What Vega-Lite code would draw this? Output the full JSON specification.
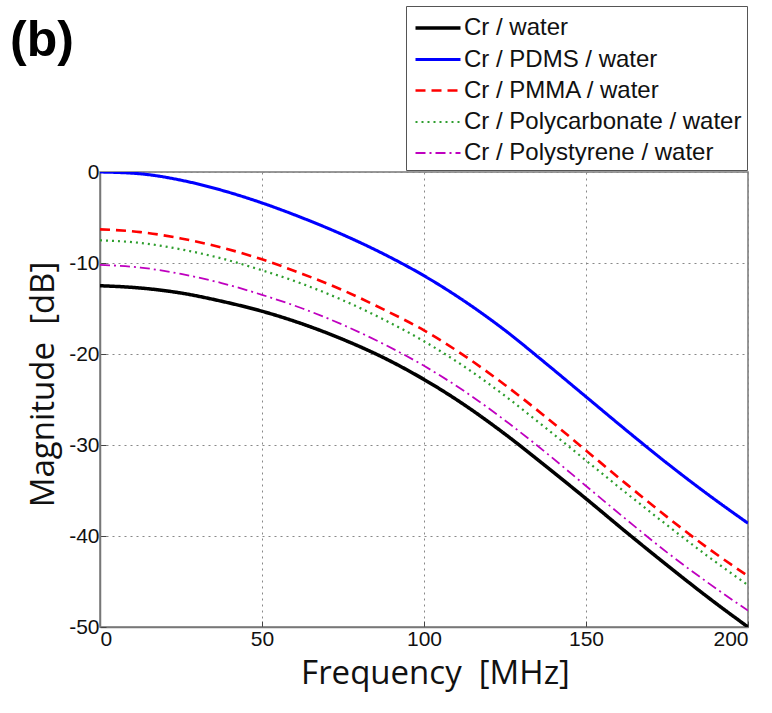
{
  "$schema": "https://vega.github.io/schema/vega-lite/v6.json",
  "autosize": "none",
  "width": 648,
  "height": 455,
  "padding": {"left": 100, "top": 172, "right": 24, "bottom": 86},
  "background": "white",
  "title": {"text": "(b)", "anchor": "start", "frame": "group", "fontSize": 50, "fontWeight": "bold", "font": "Liberation Sans", "color": "#000", "baseline": "top", "dx": -90, "dy": 64},
  "config": {
    "view": {"stroke": "#777", "strokeWidth": 1.5},
    "axis": {
      "labelFont": "Liberation Sans", "labelFontSize": 21, "labelColor": "#111",
      "titleFont": "Open Sans", "titleFontSize": 33, "titleFontWeight": "normal", "titleColor": "#111",
      "domainColor": "#777", "domainWidth": 1.5,
      "tickColor": "#444", "tickSize": -6, "tickWidth": 1,
      "gridColor": "#888", "gridDash": [2, 4], "gridWidth": 1, "gridOpacity": 1
    },
    "legend": {
      "labelFont": "Liberation Sans", "labelFontSize": 24, "labelColor": "#111", "labelLimit": 0,
      "strokeColor": "#555", "fillColor": "white", "padding": 5,
      "rowPadding": 2.5, "labelOffset": 9, "symbolOffset": 10, "symbolType": "M-1.5,0H1.5", "symbolSize": 900
    }
  },
  "data": {"values": [
    {"f": 0, "dB": -12.5, "s": "Cr / water"},
    {"f": 12.5, "dB": -12.75, "s": "Cr / water"},
    {"f": 25, "dB": -13.3, "s": "Cr / water"},
    {"f": 37.5, "dB": -14.2, "s": "Cr / water"},
    {"f": 50, "dB": -15.3, "s": "Cr / water"},
    {"f": 62.5, "dB": -16.7, "s": "Cr / water"},
    {"f": 75, "dB": -18.4, "s": "Cr / water"},
    {"f": 87.5, "dB": -20.4, "s": "Cr / water"},
    {"f": 100, "dB": -22.8, "s": "Cr / water"},
    {"f": 112.5, "dB": -25.6, "s": "Cr / water"},
    {"f": 125, "dB": -28.8, "s": "Cr / water"},
    {"f": 137.5, "dB": -32.3, "s": "Cr / water"},
    {"f": 150, "dB": -35.9, "s": "Cr / water"},
    {"f": 162.5, "dB": -39.6, "s": "Cr / water"},
    {"f": 175, "dB": -43.2, "s": "Cr / water"},
    {"f": 187.5, "dB": -46.7, "s": "Cr / water"},
    {"f": 200, "dB": -50, "s": "Cr / water"},

    {"f": 0, "dB": 0, "s": "Cr / PDMS / water"},
    {"f": 12.5, "dB": -0.2, "s": "Cr / PDMS / water"},
    {"f": 25, "dB": -0.9, "s": "Cr / PDMS / water"},
    {"f": 37.5, "dB": -2.0, "s": "Cr / PDMS / water"},
    {"f": 50, "dB": -3.4, "s": "Cr / PDMS / water"},
    {"f": 62.5, "dB": -5.05, "s": "Cr / PDMS / water"},
    {"f": 75, "dB": -6.9, "s": "Cr / PDMS / water"},
    {"f": 87.5, "dB": -9.0, "s": "Cr / PDMS / water"},
    {"f": 100, "dB": -11.4, "s": "Cr / PDMS / water"},
    {"f": 112.5, "dB": -14.2, "s": "Cr / PDMS / water"},
    {"f": 125, "dB": -17.4, "s": "Cr / PDMS / water"},
    {"f": 137.5, "dB": -21.0, "s": "Cr / PDMS / water"},
    {"f": 150, "dB": -24.7, "s": "Cr / PDMS / water"},
    {"f": 162.5, "dB": -28.4, "s": "Cr / PDMS / water"},
    {"f": 175, "dB": -32.0, "s": "Cr / PDMS / water"},
    {"f": 187.5, "dB": -35.4, "s": "Cr / PDMS / water"},
    {"f": 200, "dB": -38.6, "s": "Cr / PDMS / water"},

    {"f": 0, "dB": -6.3, "s": "Cr / PMMA / water"},
    {"f": 12.5, "dB": -6.6, "s": "Cr / PMMA / water"},
    {"f": 25, "dB": -7.3, "s": "Cr / PMMA / water"},
    {"f": 37.5, "dB": -8.3, "s": "Cr / PMMA / water"},
    {"f": 50, "dB": -9.6, "s": "Cr / PMMA / water"},
    {"f": 62.5, "dB": -11.2, "s": "Cr / PMMA / water"},
    {"f": 75, "dB": -13.0, "s": "Cr / PMMA / water"},
    {"f": 87.5, "dB": -15.1, "s": "Cr / PMMA / water"},
    {"f": 100, "dB": -17.4, "s": "Cr / PMMA / water"},
    {"f": 112.5, "dB": -20.2, "s": "Cr / PMMA / water"},
    {"f": 125, "dB": -23.4, "s": "Cr / PMMA / water"},
    {"f": 137.5, "dB": -26.9, "s": "Cr / PMMA / water"},
    {"f": 150, "dB": -30.6, "s": "Cr / PMMA / water"},
    {"f": 162.5, "dB": -34.3, "s": "Cr / PMMA / water"},
    {"f": 175, "dB": -37.9, "s": "Cr / PMMA / water"},
    {"f": 187.5, "dB": -41.3, "s": "Cr / PMMA / water"},
    {"f": 200, "dB": -44.4, "s": "Cr / PMMA / water"},

    {"f": 0, "dB": -7.5, "s": "Cr / Polycarbonate / water"},
    {"f": 12.5, "dB": -7.8, "s": "Cr / Polycarbonate / water"},
    {"f": 25, "dB": -8.5, "s": "Cr / Polycarbonate / water"},
    {"f": 37.5, "dB": -9.5, "s": "Cr / Polycarbonate / water"},
    {"f": 50, "dB": -10.8, "s": "Cr / Polycarbonate / water"},
    {"f": 62.5, "dB": -12.3, "s": "Cr / Polycarbonate / water"},
    {"f": 75, "dB": -14.1, "s": "Cr / Polycarbonate / water"},
    {"f": 87.5, "dB": -16.2, "s": "Cr / Polycarbonate / water"},
    {"f": 100, "dB": -18.6, "s": "Cr / Polycarbonate / water"},
    {"f": 112.5, "dB": -21.4, "s": "Cr / Polycarbonate / water"},
    {"f": 125, "dB": -24.6, "s": "Cr / Polycarbonate / water"},
    {"f": 137.5, "dB": -28.1, "s": "Cr / Polycarbonate / water"},
    {"f": 150, "dB": -31.7, "s": "Cr / Polycarbonate / water"},
    {"f": 162.5, "dB": -35.3, "s": "Cr / Polycarbonate / water"},
    {"f": 175, "dB": -38.8, "s": "Cr / Polycarbonate / water"},
    {"f": 187.5, "dB": -42.2, "s": "Cr / Polycarbonate / water"},
    {"f": 200, "dB": -45.4, "s": "Cr / Polycarbonate / water"},

    {"f": 0, "dB": -10.2, "s": "Cr / Polystyrene / water"},
    {"f": 12.5, "dB": -10.5, "s": "Cr / Polystyrene / water"},
    {"f": 25, "dB": -11.2, "s": "Cr / Polystyrene / water"},
    {"f": 37.5, "dB": -12.2, "s": "Cr / Polystyrene / water"},
    {"f": 50, "dB": -13.5, "s": "Cr / Polystyrene / water"},
    {"f": 62.5, "dB": -15.0, "s": "Cr / Polystyrene / water"},
    {"f": 75, "dB": -16.8, "s": "Cr / Polystyrene / water"},
    {"f": 87.5, "dB": -18.9, "s": "Cr / Polystyrene / water"},
    {"f": 100, "dB": -21.3, "s": "Cr / Polystyrene / water"},
    {"f": 112.5, "dB": -24.1, "s": "Cr / Polystyrene / water"},
    {"f": 125, "dB": -27.3, "s": "Cr / Polystyrene / water"},
    {"f": 137.5, "dB": -30.8, "s": "Cr / Polystyrene / water"},
    {"f": 150, "dB": -34.5, "s": "Cr / Polystyrene / water"},
    {"f": 162.5, "dB": -38.2, "s": "Cr / Polystyrene / water"},
    {"f": 175, "dB": -41.8, "s": "Cr / Polystyrene / water"},
    {"f": 187.5, "dB": -45.1, "s": "Cr / Polystyrene / water"},
    {"f": 200, "dB": -48.2, "s": "Cr / Polystyrene / water"}
  ]},
  "mark": {"type": "line", "interpolate": "monotone", "clip": true},
  "encoding": {
    "x": {"field": "f", "type": "quantitative", "title": "Frequency\u00a0 [MHz]",
      "scale": {"domain": [0, 200], "nice": false},
      "axis": {"values": [0, 50, 100, 150, 200], "labelPadding": 7, "titlePadding": 8, "titleX": 335}},
    "y": {"field": "dB", "type": "quantitative", "title": "Magnitude\u00a0 [dB]",
      "scale": {"domain": [-50, 0], "nice": false},
      "axis": {"values": [0, -10, -20, -30, -40, -50], "labelPadding": 7, "titlePadding": 8, "titleY": 212, "labelExpr": "'' + datum.value"}},
    "color": {"field": "s", "type": "nominal", "title": null,
      "scale": {"domain": ["Cr / water", "Cr / PDMS / water", "Cr / PMMA / water", "Cr / Polycarbonate / water", "Cr / Polystyrene / water"],
        "range": ["#000000", "#0000ff", "#ff0000", "#2e9e2e", "#bf00bf"]},
      "legend": {"orient": "none", "legendX": 306, "legendY": -166}},
    "strokeDash": {"field": "s", "type": "nominal", "title": null,
      "scale": {"domain": ["Cr / water", "Cr / PDMS / water", "Cr / PMMA / water", "Cr / Polycarbonate / water", "Cr / Polystyrene / water"],
        "range": [[1, 0], [1, 0], [10, 6], [2, 4], [10, 4, 2, 4]]},
      "legend": {"orient": "none", "legendX": 306, "legendY": -166}},
    "strokeWidth": {"field": "s", "type": "nominal", "title": null,
      "scale": {"domain": ["Cr / water", "Cr / PDMS / water", "Cr / PMMA / water", "Cr / Polycarbonate / water", "Cr / Polystyrene / water"],
        "range": [3.5, 1.8, 2, 2, 2]},
      "legend": {"orient": "none", "legendX": 306, "legendY": -166}}
  }
}
